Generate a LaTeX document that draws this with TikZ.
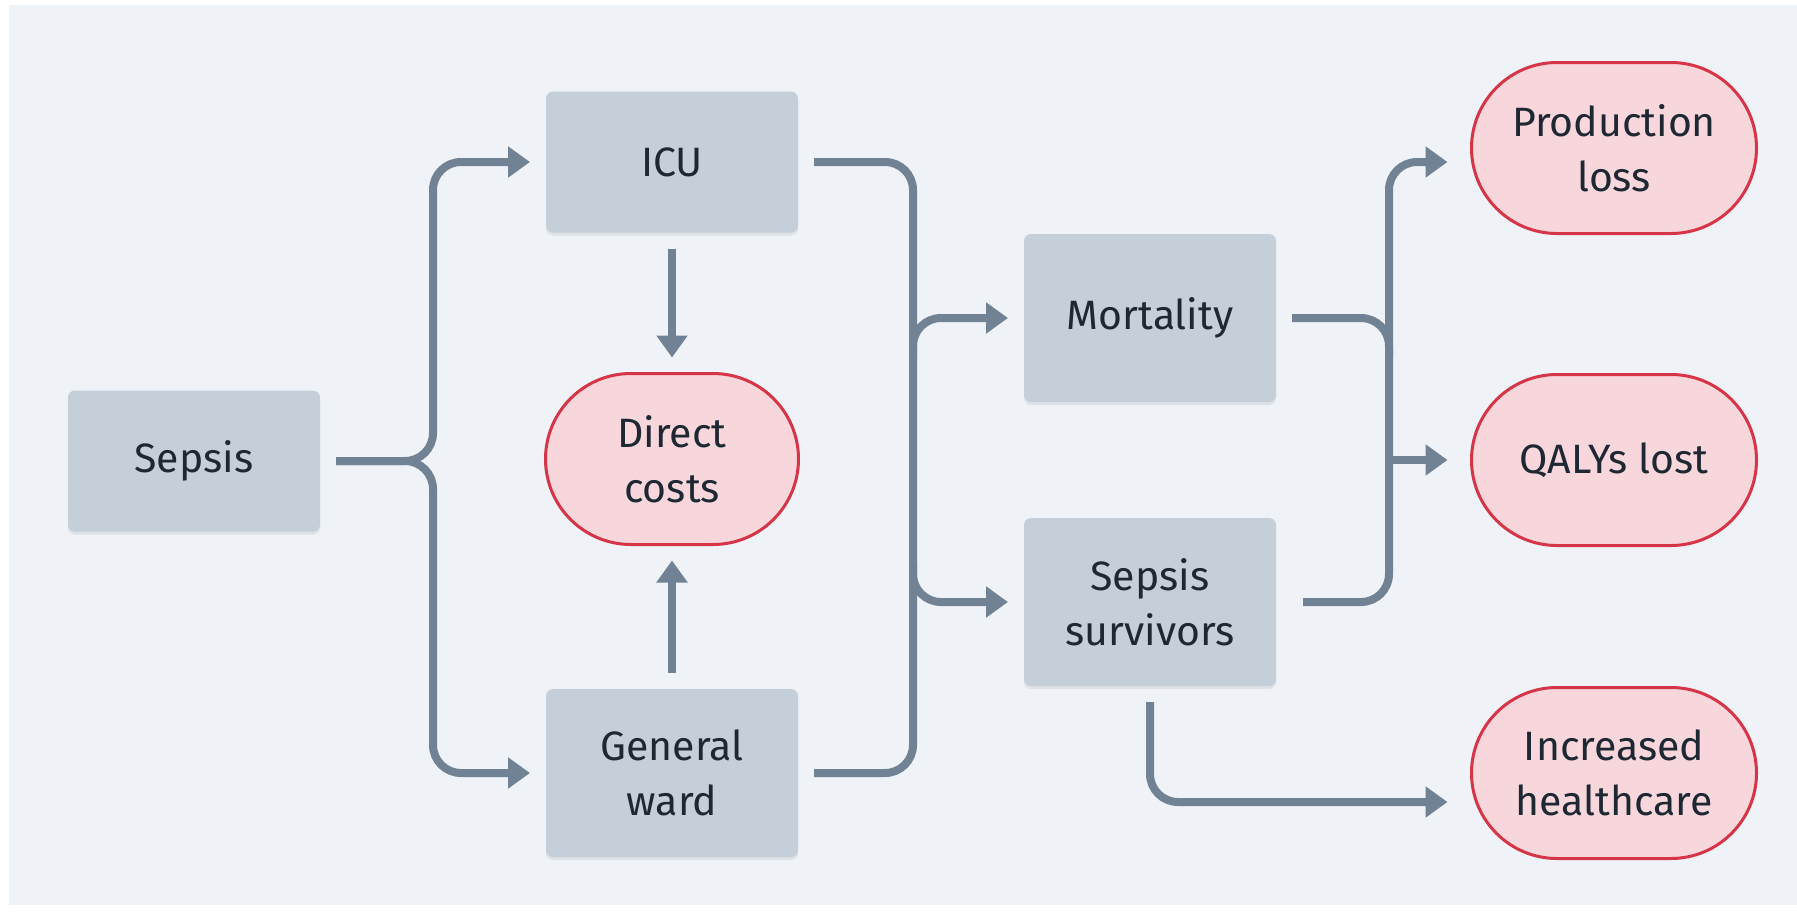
\documentclass[tikz,border=0pt]{standalone}
\usepackage{fontspec}
\setmainfont{Fira Sans}
\usetikzlibrary{positioning,arrows.meta,calc,shapes.misc,shadows}

\definecolor{bgcol}{HTML}{EFF3F7}
\definecolor{boxcol}{HTML}{C4CFDA}
\definecolor{inkcol}{HTML}{1E2833}
\definecolor{linecol}{HTML}{718294}
\definecolor{costfill}{HTML}{F8D7DC}
\definecolor{costdraw}{HTML}{D63447}

\begin{document}
\begin{tikzpicture}[
  x=1pt,y=-1pt,
  stage/.style={rectangle,fill=boxcol,rounded corners=7pt,minimum width=252pt,minimum height=#1,align=center,
    text=inkcol,font=\fontsize{41}{55}\selectfont,outer sep=16pt,
    drop shadow={shadow xshift=0pt,shadow yshift=-3pt,opacity=0.07,fill=black}},
  stage/.default=141pt,
  cost/.style={rounded rectangle,draw=costdraw,line width=3pt,fill=costfill,minimum width=#1,minimum height=171pt,
    inner sep=0pt,align=center,text=inkcol,font=\fontsize{41}{55}\selectfont,outer sep=16pt},
  cost/.default=285pt,
  link/.style={draw=linecol,line width=8pt,rounded corners=28pt},
  flow/.style={link,-{Triangle[length=22pt,width=30pt]}},
]
% canvas
\useasboundingbox (0,0) rectangle (1797,913);
\fill[white] (0,0) rectangle (1797,913);
\fill[bgcol] (9,5) rectangle (1797,905);

% Nodes
\node[stage] (sepsis) at (194,461) {Sepsis};
\node[stage] (icu) at (672,162) {ICU};
\node[cost=253pt] (direct) at (672,459) {Direct\\costs};
\node[stage=168pt] (ward) at (672,773) {General\\ward};
\node[stage=168pt] (mort) at (1150,318) {Mortality};
\node[stage=168pt] (surv) at (1150,602) {Sepsis\\survivors};
\node[cost] (prod) at (1614,148) {Production\\loss};
\node[cost] (qaly) at (1614,460) {QALYs lost};
\node[cost] (incr) at (1614,773) {Increased\\healthcare};

% Junction columns
\coordinate (brL) at (433,461);
\coordinate (brM) at (913,461);
\coordinate (brR) at (1389,461);

% Sepsis splits into ICU / ward
\draw[flow] (sepsis.east) -| (brL |- icu.west) -- (icu.west);
\draw[flow] (sepsis.east) -| (brL |- ward.west) -- (ward.west);

% Both feed direct costs
\draw[flow] (icu.south) -- (direct.north);
\draw[flow] (ward.north) -- (direct.south);

% ICU + ward -> outcomes
\draw[link] (icu.east) -| (brM) |- (ward.east);
\draw[flow] ($(brM |- mort.west)+(0,40)$) |- (mort.west);
\draw[flow] ($(brM |- surv.west)+(0,-40)$) |- (surv.west);

% Outcomes -> indirect costs
\draw[link] (mort.east) -| ($(brR |- mort.east)+(0,40)$);
\draw[flow,shorten <=11pt,shorten >=8pt] (surv.east) -| (brR |- icu.east) -- (prod.west |- icu.east);
\draw[flow,shorten >=8pt] (brR |- qaly.west) -- (qaly.west);
\draw[flow,shorten >=8pt] (surv.south) |- ($(incr.west)+(0,29)$);
\end{tikzpicture}
\end{document}
